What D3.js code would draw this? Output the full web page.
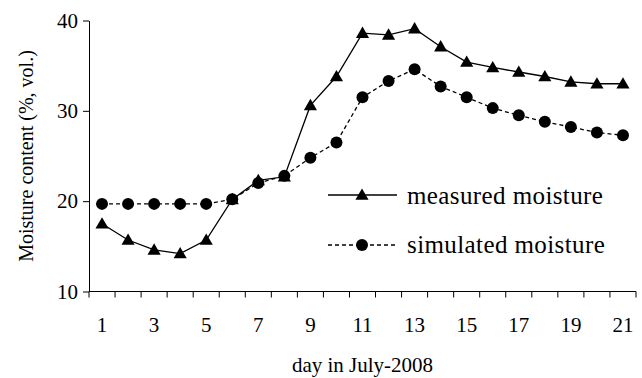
<!DOCTYPE html>
<html>
<head>
<meta charset="utf-8">
<script src="https://cdn.jsdelivr.net/npm/d3@7"></script>
<style>
  body { margin: 0; background: #fff; }
  svg text { font-family: "Liberation Serif", "Times New Roman", serif; fill: #000; }
</style>
</head>
<body>
<div id="chart"></div>
<script>
// days of July 2008
const days = d3.range(1, 22);
const tickLabels = [1, 3, 5, 7, 9, 11, 13, 15, 17, 19, 21];
const yTicks = [10, 20, 30, 40];

const measured = [17.5, 15.7, 14.6, 14.2, 15.7, 20.2, 22.3, 22.7, 30.6, 33.8, 38.6,
                  38.4, 39.1, 37.1, 35.4, 34.8, 34.3, 33.8, 33.2, 33.0, 33.0];
const simulated = [19.7, 19.7, 19.7, 19.7, 19.7, 20.2, 22.0, 22.8, 24.8, 26.5, 31.5,
                   33.3, 34.6, 32.7, 31.5, 30.3, 29.5, 28.8, 28.2, 27.6, 27.3];

const width = 642, height = 378;
const margin = { top: 20.5, right: 6, bottom: 86.5, left: 89 };

const svg = d3.select('#chart').append('svg')
    .attr('width', width)
    .attr('height', height);

const x = d3.scaleBand()
    .domain(days)
    .range([margin.left, width - margin.right]);

const y = d3.scaleLinear()
    .domain([10, 40])
    .range([height - margin.bottom, margin.top]);

const cx = d => x(d) + x.bandwidth() / 2;

// y axis
const yAxis = svg.append('g')
    .attr('transform', `translate(${margin.left},0)`)
    .call(d3.axisLeft(y).tickValues(yTicks).tickSize(6).tickSizeOuter(0).tickPadding(5));
yAxis.selectAll('text').style('font-size', '21px');
yAxis.select('.domain').attr('stroke', '#000');

// x axis: Excel-style category axis, ticks between categories
const xAxis = svg.append('g')
    .attr('transform', `translate(0,${height - margin.bottom})`);
xAxis.append('line')
    .attr('x1', margin.left).attr('x2', width - margin.right)
    .attr('stroke', '#000');
xAxis.selectAll('.tick')
    .data(days.concat([22]))
    .enter().append('line')
    .attr('x1', d => d === 22 ? x(21) + x.bandwidth() : x(d))
    .attr('x2', d => d === 22 ? x(21) + x.bandwidth() : x(d))
    .attr('y1', 0).attr('y2', 6)
    .attr('stroke', '#000');
xAxis.selectAll('.lbl')
    .data(tickLabels)
    .enter().append('text')
    .attr('x', cx)
    .attr('y', 40)
    .attr('text-anchor', 'middle')
    .style('font-size', '21px')
    .text(d => d);

// axis titles
svg.append('text')
    .attr('x', (margin.left + width - margin.right) / 2)
    .attr('y', 372)
    .attr('text-anchor', 'middle')
    .style('font-size', '21px')
    .text('day in July-2008');

svg.append('text')
    .attr('transform', `translate(33,${(y(10) + y(40)) / 2}) rotate(-90)`)
    .attr('text-anchor', 'middle')
    .style('font-size', '20px')
    .text('Moisture content (%, vol.)');

// lines
const line = d3.line().x((d, i) => cx(days[i])).y(d => y(d));

svg.append('path')
    .datum(simulated)
    .attr('d', line)
    .attr('fill', 'none')
    .attr('stroke', '#000')
    .attr('stroke-width', 1.3)
    .attr('stroke-dasharray', '4,3');

svg.append('path')
    .datum(measured)
    .attr('d', line)
    .attr('fill', 'none')
    .attr('stroke', '#000')
    .attr('stroke-width', 1.3);

const tri = d3.symbol().type(d3.symbolTriangle).size(75);

svg.selectAll('.sim')
    .data(simulated)
    .enter().append('circle')
    .attr('cx', (d, i) => cx(days[i]))
    .attr('cy', d => y(d))
    .attr('r', 6)
    .attr('fill', '#000');

svg.selectAll('.meas')
    .data(measured)
    .enter().append('path')
    .attr('d', tri)
    .attr('transform', (d, i) => `translate(${cx(days[i])},${y(d) + 1})`)
    .attr('fill', '#000');

// legend
const legend = svg.append('g');
legend.append('line')
    .attr('x1', 328).attr('x2', 397).attr('y1', 195).attr('y2', 195)
    .attr('stroke', '#000').attr('stroke-width', 1.3);
legend.append('path')
    .attr('d', tri)
    .attr('transform', 'translate(362,196)');
legend.append('text')
    .attr('x', 407).attr('y', 204)
    .style('font-size', '25px')
    .style('letter-spacing', '0.4px')
    .text('measured moisture');

legend.append('line')
    .attr('x1', 328).attr('x2', 397).attr('y1', 245).attr('y2', 245)
    .attr('stroke', '#000').attr('stroke-width', 1.3)
    .attr('stroke-dasharray', '4,3');
legend.append('circle')
    .attr('cx', 362).attr('cy', 245).attr('r', 6);
legend.append('text')
    .attr('x', 407).attr('y', 253)
    .style('font-size', '25px')
    .style('letter-spacing', '0.4px')
    .text('simulated moisture');
</script>
</body>
</html>
